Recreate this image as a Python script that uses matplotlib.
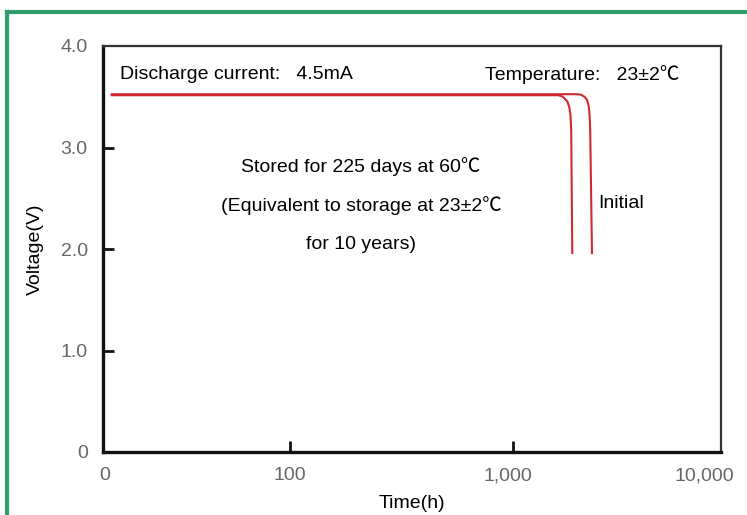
import numpy as np
import matplotlib
matplotlib.use("Agg")
import matplotlib.pyplot as plt
from matplotlib.lines import Line2D
from matplotlib.transforms import ScaledTranslation

# Daten
stored_hours = [11, 1646, 1720, 1778, 1828, 1869, 1890, 1905, 1928]
stored_volts = [3.515, 3.515, 3.505, 3.48, 3.45, 3.39, 3.32, 3.17, 1.95]
initial_hours = [11, 2032, 2123, 2207, 2269, 2312, 2335, 2351, 2398]
initial_volts = [3.525, 3.525, 3.52, 3.50, 3.47, 3.41, 3.32, 3.17, 1.95]

x_ticks = [10, 100, 1000, 10000]
x_tick_labels = ["0", "100", "1,000", "10,000"]
y_ticks = [0, 1, 2, 3, 4]
y_tick_labels = ["0", "1.0", "2.0", "3.0", "4.0"]

# Lage der Dekaden auf der Achse (ungleichmaessig im Original)
decade_pos = [0, 0.3026, 0.6634, 1.0]
decade_log = [1, 2, 3, 4]


def fwd(x):
    x = np.clip(np.asarray(x, dtype=float), 1e-9, None)
    return np.interp(np.log10(x), decade_log, decade_pos,
                     left=-1, right=2)


def inv(p):
    return 10 ** np.interp(np.asarray(p, dtype=float), decade_pos, decade_log)


text_font = ['Liberation Sans', 'Noto Sans CJK SC', 'DejaVu Sans']
line_color = '#d02a30'
fs = 14

fig = plt.figure(figsize=(7.47, 5.15), dpi=100)
ax = fig.add_axes([103 / 747, 63 / 515, 618 / 747, 406 / 515])

ax.plot(stored_hours, stored_volts, color=line_color, linewidth=1.5,
        solid_capstyle='butt')
ax.plot(initial_hours, initial_volts, color=line_color, linewidth=1.5,
        solid_capstyle='butt')

ax.set_xscale('function', functions=(fwd, inv))
ax.set_xlim(10, 10000)
ax.set_ylim(0, 4)

ax.set_xticks(x_ticks)
ax.set_xticklabels(x_tick_labels)
ax.set_yticks(y_ticks)
ax.set_yticklabels(y_tick_labels)
ax.minorticks_off()
ax.tick_params(direction='in', length=8, width=2, color='#111',
               labelsize=14, labelcolor='#666', pad=11)
for lab in ax.get_xticklabels() + ax.get_yticklabels():
    lab.set_family('Liberation Sans')

# Striche an den Ecken verbergen
for tick in [ax.xaxis.get_major_ticks()[0], ax.xaxis.get_major_ticks()[-1],
             ax.yaxis.get_major_ticks()[0], ax.yaxis.get_major_ticks()[-1]]:
    tick.tick1line.set_visible(False)

# Beschriftungen leicht verschoben wie im Original
offsets = [2, 0, -5, -17]
for lab, dx in zip(ax.get_xticklabels(), offsets):
    lab.set_transform(lab.get_transform()
                      + ScaledTranslation(dx / 100, 0, fig.dpi_scale_trans))

for side in ['left', 'bottom']:
    ax.spines[side].set_linewidth(2.4)
    ax.spines[side].set_color('#111')
for side in ['top', 'right']:
    ax.spines[side].set_linewidth(1.6)
    ax.spines[side].set_color('#333')

ax.set_ylabel('Voltage(V)', fontsize=fs, family=text_font, labelpad=12)
ax.set_xlabel('Time(h)', fontsize=fs, family=text_font, labelpad=8)

ax.text(0.0275, 0.929, 'Discharge current:   4.5mA', transform=ax.transAxes,
        fontsize=fs, family=text_font, va='center', ha='left')
ax.text(0.618, 0.929, 'Temperature:   23±2℃', transform=ax.transAxes,
        fontsize=fs, family=text_font, va='center', ha='left')
ax.text(0.4175, 0.704, 'Stored for 225 days at 60℃', transform=ax.transAxes,
        fontsize=fs, family=text_font, va='center', ha='center')
ax.text(0.4175, 0.608, '(Equivalent to storage at 23±2℃',
        transform=ax.transAxes, fontsize=fs, family=text_font,
        va='center', ha='center')
ax.text(0.4175, 0.512, 'for 10 years)', transform=ax.transAxes,
        fontsize=fs, family=text_font, va='center', ha='center')
ax.text(0.801, 0.611, 'Initial', transform=ax.transAxes,
        fontsize=fs, family=text_font, va='center', ha='left')

# gruener Rahmen (rechts und unten abgeschnitten)
green = '#2f9e6c'
fig.add_artist(Line2D([7 / 747, 7 / 747], [0, 1 - 12 / 515], color=green,
                      linewidth=3, transform=fig.transFigure,
                      solid_capstyle='projecting'))
fig.add_artist(Line2D([7 / 747, 1], [1 - 12 / 515, 1 - 12 / 515], color=green,
                      linewidth=3, transform=fig.transFigure,
                      solid_capstyle='projecting'))

plt.savefig('out.png', dpi=100)
